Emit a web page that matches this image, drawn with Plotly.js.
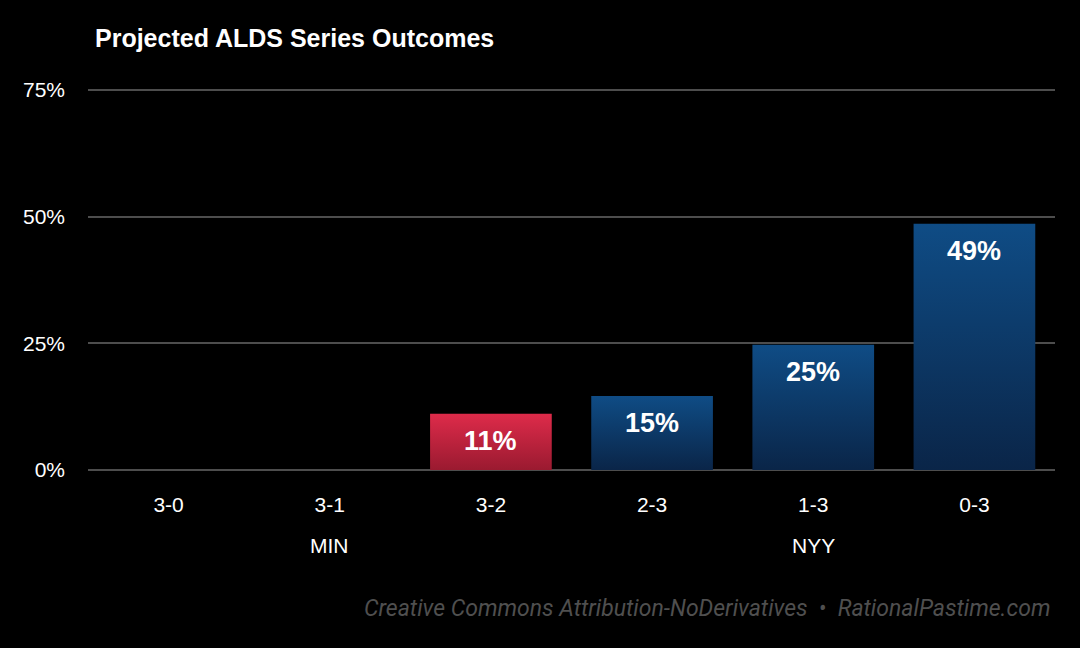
<!DOCTYPE html>
<html>
<head>
<meta charset="utf-8">
<script src="https://cdn.plot.ly/plotly-3.0.1.min.js"></script>
<style>
  html, body { margin: 0; padding: 0; background: #000; }
  #chart { width: 1080px; height: 648px; }
</style>
</head>
<body>
<div id="chart"></div>
<script>
// series outcomes, MIN wins listed first
var outcomes = ['3-0', '3-1', '3-2', '2-3', '1-3', '0-3'];
var winners = ['MIN', 'MIN', 'MIN', 'NYY', 'NYY', 'NYY'];
var probs = [0, 0, 0.111, 0.146, 0.247, 0.486];
var yTicks = [0, 0.25, 0.5, 0.75];
var yTickText = ['0%', '25%', '50%', '75%'];
var teams = ['MIN', 'NYY'];

var teamColor = { MIN: '#c8223d', NYY: '#0d3d6e' };
var teamGrad = { MIN: ['#de2b4a', '#9a1a30'], NYY: ['#0f4c85', '#0a2548'] };

var bars = {
    type: 'bar',
    x: outcomes,
    y: probs,
    marker: { color: winners.map(function (t) { return teamColor[t]; }), line: { width: 0 } },
    hoverinfo: 'none'
};

var annotations = [];
// value labels just under each bar's top
for (var i = 0; i < outcomes.length; i++) {
    if (probs[i] <= 0) continue;
    annotations.push({
        x: outcomes[i], y: probs[i], xref: 'x', yref: 'y',
        text: Math.round(probs[i] * 100) + '%',
        showarrow: false, yanchor: 'middle', yshift: -27,
        font: { family: 'Liberation Sans', size: 27, color: '#ffffff', weight: 'bold' }
    });
}
// team labels under the middle outcome of each group
teams.forEach(function (t) {
    var idx = [];
    winners.forEach(function (w, j) { if (w === t) idx.push(j); });
    annotations.push({
        x: outcomes[idx[Math.floor(idx.length / 2)]], y: -0.197, xref: 'x', yref: 'paper',
        text: t, showarrow: false, yanchor: 'middle',
        font: { family: 'Liberation Sans', size: 21, color: '#ffffff' }
    });
});
// credit line
annotations.push({
    x: 0.997, y: -0.363, xref: 'paper', yref: 'paper',
    xanchor: 'right', yanchor: 'middle', showarrow: false,
    text: 'Creative Commons Attribution-NoDerivatives  \u2022  RationalPastime.com',
    font: { family: 'Roboto', size: 23, color: '#4f4f4f', style: 'italic' }
});

var layout = {
    width: 1080, height: 648,
    paper_bgcolor: '#000000', plot_bgcolor: '#000000',
    margin: { l: 88, r: 25, t: 88, b: 178 },
    title: {
        text: 'Projected ALDS Series Outcomes',
        x: 95 / 1080, xref: 'container', xanchor: 'left',
        y: 1 - 38 / 648, yref: 'container', yanchor: 'middle',
        font: { family: 'Liberation Sans', size: 25, color: '#ffffff', weight: 'bold' }
    },
    bargap: 0.245,
    showlegend: false,
    xaxis: {
        type: 'category',
        showgrid: false, zeroline: false, showline: false,
        ticks: '', ticklabelstandoff: 20,
        tickfont: { family: 'Liberation Sans', size: 21, color: '#ffffff' },
        fixedrange: true
    },
    yaxis: {
        range: [0, 0.754],
        tickvals: yTicks, ticktext: yTickText,
        showgrid: true, gridcolor: '#4d4d4d', gridwidth: 2,
        zeroline: true, zerolinecolor: '#4d4d4d', zerolinewidth: 2,
        showline: false, ticks: '', ticklabelstandoff: 22,
        tickfont: { family: 'Liberation Sans', size: 21, color: '#ffffff' },
        fixedrange: true
    },
    annotations: annotations
};

Plotly.newPlot('chart', [bars], layout, { displayModeBar: false, staticPlot: true }).then(function (gd) {
    // vertical gradient fill per bar
    var svg = gd.querySelector('.main-svg');
    var ns = 'http://www.w3.org/2000/svg';
    var defs = svg.querySelector('defs') || svg.insertBefore(document.createElementNS(ns, 'defs'), svg.firstChild);
    Object.keys(teamGrad).forEach(function (t) {
        var g = document.createElementNS(ns, 'linearGradient');
        g.setAttribute('id', 'grad' + t);
        g.setAttribute('x1', '0'); g.setAttribute('y1', '0');
        g.setAttribute('x2', '0'); g.setAttribute('y2', '1');
        [[0, teamGrad[t][0]], [1, teamGrad[t][1]]].forEach(function (s) {
            var stop = document.createElementNS(ns, 'stop');
            stop.setAttribute('offset', s[0]);
            stop.setAttribute('stop-color', s[1]);
            g.appendChild(stop);
        });
        defs.appendChild(g);
    });
    var paths = gd.querySelectorAll('.bars .point path');
    paths.forEach(function (p, k) {
        p.style.fill = 'url(#grad' + winners[k] + ')';
    });
});
</script>
</body>
</html>
